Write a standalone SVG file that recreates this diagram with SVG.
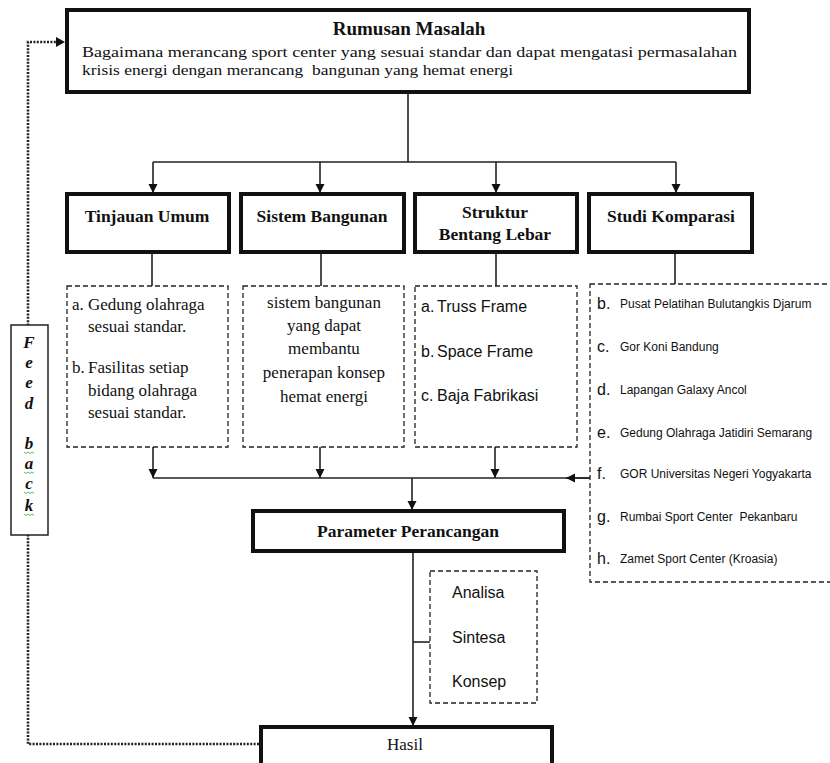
<svg xmlns="http://www.w3.org/2000/svg" width="830" height="763" viewBox="0 0 830 763">
<style>
.thick{fill:#fff;stroke:#111;stroke-width:4}
.dash{fill:#fff;stroke:#222;stroke-width:1.3;stroke-dasharray:5 3}
.conn{fill:none;stroke:#222;stroke-width:1.6}
.serif{font-family:"Liberation Serif","Times New Roman",serif;fill:#111}
.b{font-weight:bold}
.h{font-size:17.5px;font-weight:bold;text-anchor:middle}
.t{font-size:17px}
.sans{font-family:"Liberation Sans",Arial,sans-serif;fill:#111}
.s16{font-size:16px}
.s12{font-size:12px}
.mid{text-anchor:middle}
</style>
<defs>
<marker id="ah" viewBox="0 0 10 10" refX="10" refY="5" markerWidth="9" markerHeight="10" markerUnits="userSpaceOnUse" orient="auto">
<path d="M0,0 L10,5 L0,10 z" fill="#111"/>
</marker>
</defs>

<g id="connectors">
<path class="conn" d="M408,93 V162 M153,162 H676"/>
<path class="conn" d="M153,162 V193" marker-end="url(#ah)"/>
<path class="conn" d="M320,162 V193" marker-end="url(#ah)"/>
<path class="conn" d="M496,162 V193" marker-end="url(#ah)"/>
<path class="conn" d="M676,162 V193" marker-end="url(#ah)"/>
<path class="conn" d="M152,253 V286 M321,253 V286 M496,253 V286 M675,253 V284"/>
<path class="conn" d="M153,447 V478" marker-end="url(#ah)"/>
<path class="conn" d="M320,447 V478" marker-end="url(#ah)"/>
<path class="conn" d="M495,447 V478" marker-end="url(#ah)"/>
<path class="conn" d="M153,478 H590"/>
<path class="conn" d="M590,478 H566" marker-end="url(#ah)"/>
<path class="conn" d="M412,478 V510" marker-end="url(#ah)"/>
<path class="conn" d="M413,552 V726" marker-end="url(#ah)"/>
<path class="conn" d="M413,642 H430"/>
<path fill="none" stroke="#222" stroke-width="2.6" stroke-dasharray="2 1.4" d="M259,744 H28 V42 H56"/>
<path d="M56,37 L65,42 L56,47 z" fill="#111"/>
</g>

<g id="rumusan">
<rect class="thick" x="67" y="10" width="682" height="82"/>
<text class="serif b" x="409" y="35" font-size="19" text-anchor="middle">Rumusan Masalah</text>
<text class="serif" x="82" y="57" font-size="15.5" textLength="655" lengthAdjust="spacingAndGlyphs">Bagaimana merancang sport center yang sesuai standar dan dapat mengatasi permasalahan</text>
<text class="serif" x="82" y="75" font-size="15.5" textLength="431" lengthAdjust="spacingAndGlyphs" xml:space="preserve">krisis energi dengan merancang  bangunan yang hemat energi</text>
</g>

<g id="tinjauan">
<rect class="thick" x="67" y="194" width="162" height="58"/>
<text class="serif h" x="147" y="222">Tinjauan Umum</text>
</g>
<g id="sistem">
<rect class="thick" x="241" y="194" width="163" height="58"/>
<text class="serif h" x="322" y="222">Sistem Bangunan</text>
</g>
<g id="struktur">
<rect class="thick" x="415" y="194" width="162" height="58"/>
<text class="serif h" x="495" y="218">Struktur</text>
<text class="serif h" x="495" y="240">Bentang Lebar</text>
</g>
<g id="studi">
<rect class="thick" x="589" y="194" width="163" height="58"/>
<text class="serif h" x="671" y="222">Studi Komparasi</text>
</g>

<g id="tinjauan-list">
<rect class="dash" x="67" y="286" width="161" height="161"/>
<text class="serif t" x="72" y="310">a.</text>
<text class="serif t" x="88" y="310">Gedung olahraga</text>
<text class="serif t" x="88" y="332">sesuai standar.</text>
<text class="serif t" x="72" y="373">b.</text>
<text class="serif t" x="88" y="373">Fasilitas setiap</text>
<text class="serif t" x="88" y="396">bidang olahraga</text>
<text class="serif t" x="88" y="418">sesuai standar.</text>
</g>

<g id="sistem-list">
<rect class="dash" x="243" y="286" width="161" height="161"/>
<text class="serif t mid" x="324" y="308">sistem bangunan</text>
<text class="serif t mid" x="324" y="331">yang dapat</text>
<text class="serif t mid" x="324" y="354">membantu</text>
<text class="serif t mid" x="324" y="378">penerapan konsep</text>
<text class="serif t mid" x="324" y="402">hemat energi</text>
</g>

<g id="struktur-list">
<rect class="dash" x="415" y="286" width="162" height="161"/>
<text class="sans s16" x="421" y="312">a.</text>
<text class="sans s16" x="437" y="312">Truss Frame</text>
<text class="sans s16" x="421" y="357">b.</text>
<text class="sans s16" x="437" y="357">Space Frame</text>
<text class="sans s16" x="421" y="401">c.</text>
<text class="sans s16" x="437" y="401">Baja Fabrikasi</text>
</g>

<g id="studi-list">
<rect class="dash" x="590" y="284" width="260" height="298"/>
<text class="sans s16" x="597" y="309">b.</text>
<text class="sans s12" x="620" y="308">Pusat Pelatihan Bulutangkis Djarum</text>
<text class="sans s16" x="597" y="352">c.</text>
<text class="sans s12" x="620" y="351">Gor Koni Bandung</text>
<text class="sans s16" x="597" y="395">d.</text>
<text class="sans s12" x="620" y="394">Lapangan Galaxy Ancol</text>
<text class="sans s16" x="597" y="438">e.</text>
<text class="sans s12" x="620" y="437">Gedung Olahraga Jatidiri Semarang</text>
<text class="sans s16" x="597" y="479">f.</text>
<text class="sans s12" x="620" y="478">GOR Universitas Negeri Yogyakarta</text>
<text class="sans s16" x="597" y="522">g.</text>
<text class="sans s12" x="620" y="521" xml:space="preserve">Rumbai Sport Center  Pekanbaru</text>
<text class="sans s16" x="597" y="564">h.</text>
<text class="sans s12" x="620" y="563">Zamet Sport Center (Kroasia)</text>
</g>

<g id="parameter">
<rect class="thick" x="253" y="511" width="311" height="40"/>
<text class="serif h" x="408" y="537">Parameter Perancangan</text>
</g>

<g id="analisa">
<rect class="dash" x="430" y="571" width="107" height="132"/>
<text class="sans s16" x="452" y="598">Analisa</text>
<text class="sans s16" x="452" y="643">Sintesa</text>
<text class="sans s16" x="452" y="687">Konsep</text>
</g>

<g id="hasil">
<rect class="thick" x="261" y="727" width="291" height="50"/>
<text class="serif t mid" x="405" y="750">Hasil</text>
</g>

<g id="feedback">
<rect x="11" y="325" width="37" height="210" fill="#fff" stroke="#222" stroke-width="1.5"/>
<g class="serif" font-size="17" font-weight="bold" font-style="italic" text-anchor="middle">
<text x="29" y="348">F</text>
<text x="29" y="368">e</text>
<text x="29" y="388">e</text>
<text x="29" y="409">d</text>
<text x="29" y="449">b</text>
<text x="29" y="469">a</text>
<text x="29" y="489">c</text>
<text x="29" y="511">k</text>
</g>
<path d="M24,452 l2,1.5 l2,-1.5 l2,1.5 l2,-1.5 l2,1.5 M24,472 l2,1.5 l2,-1.5 l2,1.5 l2,-1.5 l2,1.5 M24,492 l2,1.5 l2,-1.5 l2,1.5 l2,-1.5 l2,1.5 M24,514 l2,1.5 l2,-1.5 l2,1.5 l2,-1.5 l2,1.5" fill="none" stroke="#3a3" stroke-width="0.8"/>
</g>
</svg>
